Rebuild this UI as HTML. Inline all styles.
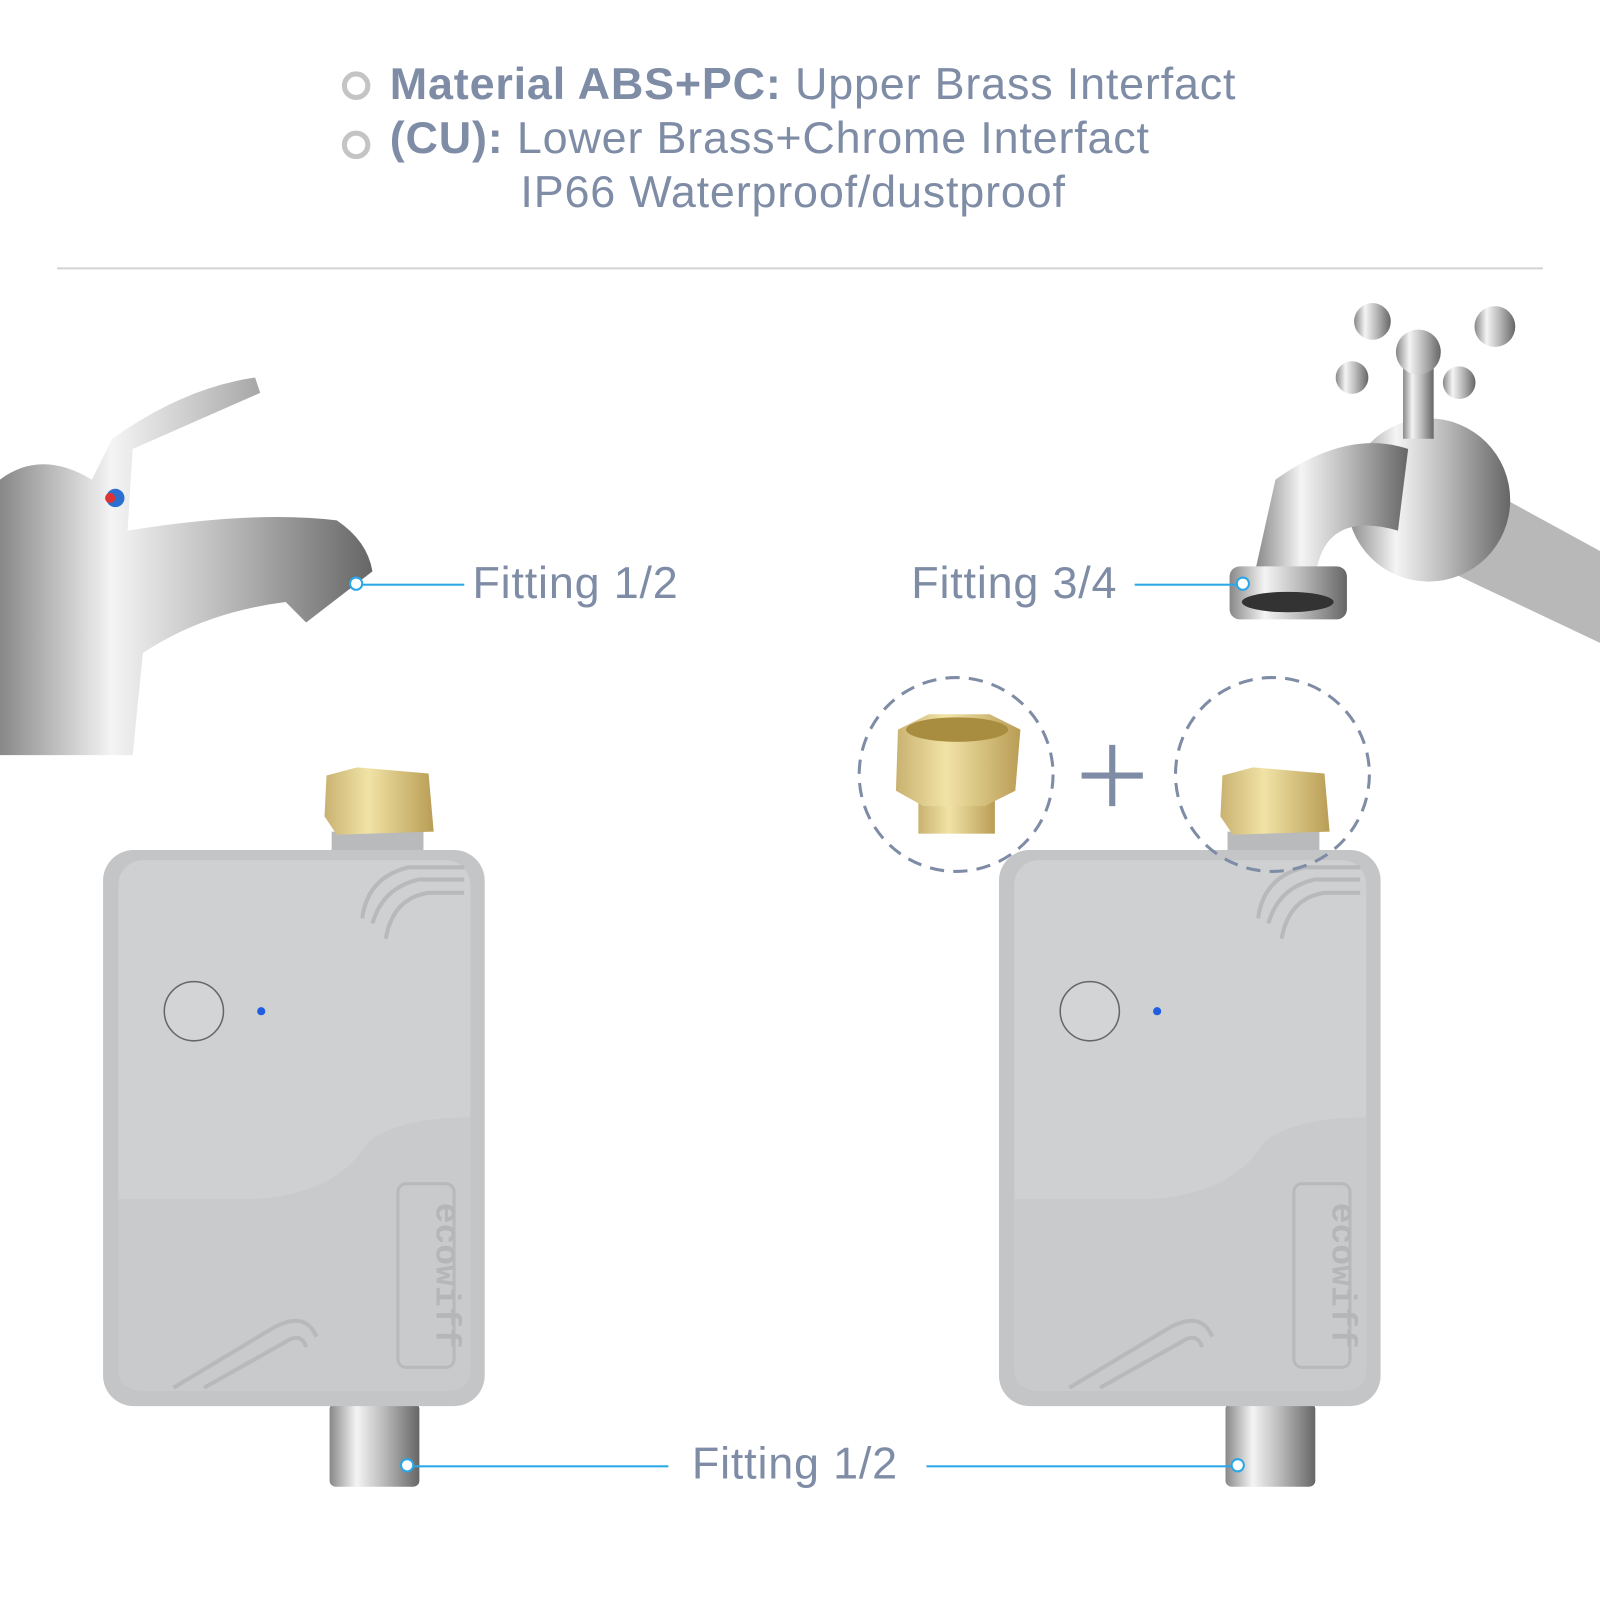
<!DOCTYPE html>
<html><head><meta charset="utf-8"><style>
html,body{margin:0;padding:0;background:#fff;width:1600px;height:1600px;overflow:hidden}
#w{position:absolute;left:0;top:0;width:1568px;height:1568px;transform:scale(1.0204);transform-origin:0 0;font-family:"Liberation Sans",sans-serif;color:#7f8ca6}
.t{position:absolute;font-size:44px;white-space:nowrap;letter-spacing:0.8px}
.b{font-weight:bold}
.bul{position:absolute;width:18px;height:18px;border:5px solid #c4c4c4;border-radius:50%}
.ln{position:absolute;height:2px;background:#2aa7e6}
.dot{position:absolute;width:10px;height:10px;border:2px solid #2aa7e6;border-radius:50%;background:#fff}
</style></head><body><div id="w">
<div class="bul" style="left:335px;top:70px"></div>
<div class="bul" style="left:335px;top:128px"></div>
<div class="t" style="left:382px;top:58px"><span class="b">Material ABS+PC:</span> Upper Brass Interfact</div>
<div class="t" style="left:382px;top:111px"><span class="b">(CU):</span> Lower Brass+Chrome Interfact</div>
<div class="t" style="left:510px;top:164px">IP66 Waterproof/dustproof</div>
<div style="position:absolute;left:56px;top:262px;width:1456px;height:2px;background:#d4d4d4"></div>

<svg width="1568" height="1568" style="position:absolute;left:0;top:0">
<defs>
<linearGradient id="ch" x1="0" x2="1"><stop offset="0" stop-color="#888"/><stop offset=".3" stop-color="#f4f4f4"/><stop offset=".6" stop-color="#bbb"/><stop offset="1" stop-color="#666"/></linearGradient>
<linearGradient id="br" x1="0" x2="1"><stop offset="0" stop-color="#c9b270"/><stop offset=".4" stop-color="#f1e3a6"/><stop offset="1" stop-color="#b99d55"/></linearGradient>
</defs>
<path d="M0 470 Q40 440 90 470 L110 430 Q180 380 250 370 L255 385 L130 440 L125 520 Q250 500 330 510 Q360 530 365 560 L300 610 L280 590 Q200 600 140 640 L130 740 L0 740 Z" fill="url(#ch)"/>
<circle cx="113" cy="488" r="9" fill="#2b6fd0"/><circle cx="108" cy="488" r="5" fill="#d33"/>
<path d="M1440 470 L1568 540 L1568 630 L1420 560 Z" fill="#b8b8b8"/>
<circle cx="1400" cy="490" r="80" fill="url(#ch)"/>
<path d="M1250 470 Q1320 420 1380 440 L1370 520 Q1300 500 1290 560 L1230 560 Z" fill="url(#ch)"/>
<rect x="1205" y="555" width="115" height="52" rx="10" fill="url(#ch)"/>
<ellipse cx="1262" cy="590" rx="45" ry="10" fill="#333"/>
<rect x="1375" y="360" width="30" height="70" fill="url(#ch)"/>
<circle cx="1345" cy="315" r="18" fill="url(#ch)"/><circle cx="1465" cy="320" r="20" fill="url(#ch)"/><circle cx="1325" cy="370" r="16" fill="url(#ch)"/><circle cx="1430" cy="375" r="16" fill="url(#ch)"/>
<circle cx="1390" cy="345" r="22" fill="url(#ch)"/>

<g id="dev">
<rect x="325" y="815" width="90" height="22" fill="#b9babc"/>
<path d="M320 760 L350 752 L420 758 L425 815 L330 818 L318 800 Z" fill="url(#br)"/>
<rect x="323" y="1375" width="88" height="82" rx="6" fill="url(#ch)"/>
<rect x="101" y="833" width="374" height="545" rx="30" fill="#c4c5c7"/>
<rect x="116" y="843" width="345" height="520" rx="24" fill="#cfd0d2"/>
<path d="M116 1175 L250 1175 Q330 1170 360 1120 Q390 1095 461 1095 L461 1340 Q461 1363 438 1363 L140 1363 Q116 1363 116 1340 Z" fill="#c9cacc"/>
<path d="M355 900 Q360 860 400 850 L455 850 M365 905 Q375 870 410 862 L455 862 M378 920 Q385 880 420 875 L455 875" stroke="#b8b9bb" stroke-width="4" fill="none"/>
<path d="M170 1360 L270 1300 Q300 1285 310 1310 M200 1360 L280 1315 Q295 1305 300 1320" stroke="#b8b9bb" stroke-width="4" fill="none"/>
<circle cx="190" cy="991" r="29" fill="#d3d4d6" stroke="#666" stroke-width="1.5"/>
<circle cx="256" cy="991" r="4" fill="#1f5ee0"/>
<rect x="390" y="1160" width="55" height="180" rx="8" fill="none" stroke="#b8b9bb" stroke-width="3"/>
<text x="0" y="0" transform="translate(428,1250) rotate(90)" text-anchor="middle" font-family="Liberation Mono,monospace" font-weight="bold" font-size="34" fill="#b5b6b8">ecowiff</text>
</g>
<use href="#dev" x="878"/>
<circle cx="937" cy="759" r="95" fill="none" stroke="#7f8ca6" stroke-width="3" stroke-dasharray="14 9"/>
<circle cx="1247" cy="759" r="95" fill="none" stroke="#7f8ca6" stroke-width="3" stroke-dasharray="14 9"/>
<rect x="900" y="775" width="75" height="42" fill="url(#br)"/>
<path d="M880 715 L910 700 L970 700 L1000 715 L995 775 L965 790 L905 790 L878 775 Z" fill="url(#br)"/>
<ellipse cx="938" cy="715" rx="50" ry="12" fill="#a88c40"/>
<path d="M1060 760 H1120 M1090 730 V790" stroke="#7f8ca6" stroke-width="6"/>
</svg>

<div class="ln" style="left:355px;top:572px;width:100px"></div><div class="dot" style="left:342px;top:565px"></div>
<div class="t" style="left:463px;top:547px">Fitting 1/2</div>
<div class="t" style="left:893px;top:547px">Fitting 3/4</div>
<div class="ln" style="left:1112px;top:572px;width:100px"></div><div class="dot" style="left:1211px;top:565px"></div>
<div class="ln" style="left:405px;top:1436px;width:250px"></div><div class="dot" style="left:392px;top:1429px"></div>
<div class="t" style="left:678px;top:1410px">Fitting 1/2</div>
<div class="ln" style="left:908px;top:1436px;width:300px"></div><div class="dot" style="left:1206px;top:1429px"></div>
</div></body></html>
